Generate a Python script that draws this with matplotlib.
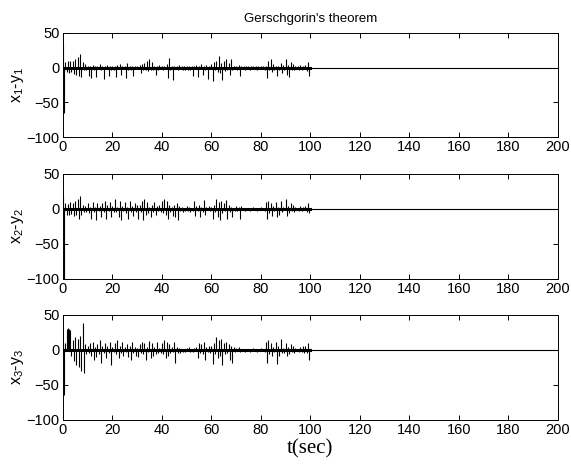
import numpy as np
import matplotlib
matplotlib.use("Agg")
import matplotlib.pyplot as plt

plt.rcParams["font.family"] = ["Liberation Sans", "DejaVu Sans"]
plt.rcParams["mathtext.fontset"] = "custom"
plt.rcParams["mathtext.rm"] = "Liberation Sans"
plt.rcParams["mathtext.it"] = "Liberation Sans"

t_step = 0.5
t_end_sync = 100
t_end = 200

err1 = [
    33, -65, 8, -6, 10, -8, 9, -7, 10, -9, 12, -10, 15, -12, 20, -14, 8, -4, 5, -3,
    3, -12, 2, -15, 4, -3, 2, -14, 3, -2, 5, -4, 2, -16, 3, -2, 4, -12, 2, -3,
    2, -3, 3, -14, 4, -2, 5, -10, 3, -2, 2, -15, 6, -3, 2, -4, 3, -12, 2, -2,
    3, -2, 4, -8, 5, -3, 6, -4, 10, -5, 12, -3, 8, -4, 3, -10, 2, -3, 4, -2,
    2, -4, 3, -2, 5, -15, 14, -3, 2, -18, 3, -2, 2, -3, 4, -2, 3, -4, 2, -3,
    2, -3, 3, -4, 2, -12, 3, -2, 4, -14, 3, -2, 5, -10, 2, -3, 4, -16, 3, -2,
    5, -20, 8, -4, 10, -6, 16, -8, 6, -18, 10, -5, 12, -3, 6, -10, 13, -4, 3, -2,
    2, -3, 4, -12, 3, -2, 2, -3, 2, -2, 2, -3, 2, -2, 3, -2, 2, -3, 2, -2,
    2, -2, 3, -3, 2, -15, 10, -4, 12, -6, 5, -3, 2, -12, 3, -4, 6, -8, 4, -3,
    12, -10, 4, -14, 8, -3, 5, -4, 3, -2, 2, -3, 4, -3, 3, -2, 4, -5, 8, -12,
    0,
]

err2 = [
    18, -100, 9, -8, 7, -9, 10, -7, 8, -10, 12, -9, 14, -15, 18, -8, 6, -5, 4, -4,
    8, -6, 3, -14, 10, -4, 3, -16, 9, -3, 4, -12, 8, -4, 12, -15, 5, -3, 10, -12,
    4, -5, 14, -4, 3, -12, 12, -16, 4, -3, 10, -6, 3, -14, 12, -4, 4, -10, 9, -5,
    5, -15, 6, -4, 12, -16, 14, -8, 10, -6, 3, -12, 6, -4, 10, -8, 4, -3, 5, -4,
    12, -6, 14, -8, 11, -14, 6, -4, 3, -10, 5, -12, 8, -16, 4, -3, 3, -4, 2, -3,
    4, -3, 3, -4, 2, -3, 12, -10, 4, -3, 5, -12, 3, -4, 13, -8, 3, -2, 4, -3,
    3, -14, 6, -4, 14, -12, 10, -16, 12, -6, 8, -3, 13, -14, 6, -4, 3, -12, 2, -3,
    4, -3, 3, -14, 4, -2, 2, -3, 2, -2, 2, -3, 2, -2, 3, -2, 2, -3, 2, -2,
    3, -2, 2, -3, 10, -14, 12, -6, 8, -10, 4, -3, 10, -12, 3, -8, 12, -5, 3, -2,
    14, -10, 4, -6, 8, -3, 6, -4, 3, -2, 2, -3, 4, -3, 3, -2, 4, -5, 8, -6,
    0,
]

err3 = [
    12, -65, 10, 30, 31, 30, 28, -8, 14, -16, 18, -22, 16, -25, 20, -30, 38, -33, 8, -6,
    6, -4, 10, -8, 12, -15, 4, -10, 8, -6, 14, -18, 5, -4, 10, -12, 6, -4, 12, -22,
    4, -3, 10, -6, 14, -12, 5, -4, 12, -8, 4, -3, 9, -10, 6, -14, 12, -5, 4, -8,
    3, -10, 8, -4, 12, -6, 10, -14, 4, -3, 13, -12, 10, -8, 4, -6, 12, -5, 3, -4,
    10, -6, 14, -12, 12, -8, 8, -4, 4, -3, 12, -18, 4, -5, 3, -4, 2, -3, 2, -3,
    3, -2, 4, -3, 2, -3, 3, -2, 4, -12, 10, -5, 8, -6, 12, -15, 4, -3, 6, -4,
    5, -20, 10, -6, 18, -12, 14, -8, 16, -22, 10, -6, 12, -4, 8, -14, 6, -18, 4, -3,
    3, -2, 4, -3, 2, -2, 2, -3, 2, -2, 2, -3, 2, -2, 3, -2, 2, -3, 2, -2,
    3, -2, 2, -3, 12, -18, 14, -6, 10, -8, 4, -3, 12, -20, 6, -8, 16, -5, 3, -4,
    10, -8, 4, -6, 8, -3, 6, -4, 3, -2, 2, -3, 4, -3, 5, -4, 6, -5, 10, -15,
    0,
]

ylabels = [r"x$_1$-y$_1$", r"x$_2$-y$_2$", r"x$_3$-y$_3$"]
yticks = [-100, -50, 0, 50]
xticks = list(range(0, 201, 20))

# ── Figure ────────────────────────────────────────────────────────────────────
fig = plt.figure(figsize=(5.71, 4.70), dpi=100)
positions = [
    [0.110, 0.7085, 0.867, 0.2215],
    [0.110, 0.4065, 0.867, 0.2235],
    [0.110, 0.1065, 0.867, 0.2235],
]

t_sync = np.arange(0, t_end_sync + t_step / 2, t_step)

for i, (pos, err, lab) in enumerate(zip(positions, [err1, err2, err3], ylabels)):
    ax = fig.add_axes(pos)
    y = np.array(err, dtype=float)
    # each sample drawn as a vertical stroke from zero, plus the zero line
    ax.vlines(t_sync, 0, y, color="black", lw=0.8)
    ax.plot([0, t_end], [0, 0], color="black", lw=0.8)
    ax.plot([0, t_end_sync], [0, 0], color="black", lw=2.2)
    ax.set_xlim(0, 200)
    ax.set_ylim(-100, 50)
    ax.set_xticks(xticks)
    ax.set_yticks(yticks)
    ax.tick_params(direction="in", top=True, right=True, length=3.5,
                   width=0.7, labelsize=10.5, pad=2.5)
    for sp in ax.spines.values():
        sp.set_linewidth(0.7)
    ax.set_ylabel(lab, fontsize=11.5, labelpad=0)
    if i == 0:
        ax.set_title("Gerschgorin's theorem", fontsize=9.5, pad=8)
    if i == 2:
        ax.set_xlabel("t(sec)", fontsize=15, family=["Liberation Serif"],
                      labelpad=1)

fig.savefig("out.png", dpi=100, facecolor="white")
